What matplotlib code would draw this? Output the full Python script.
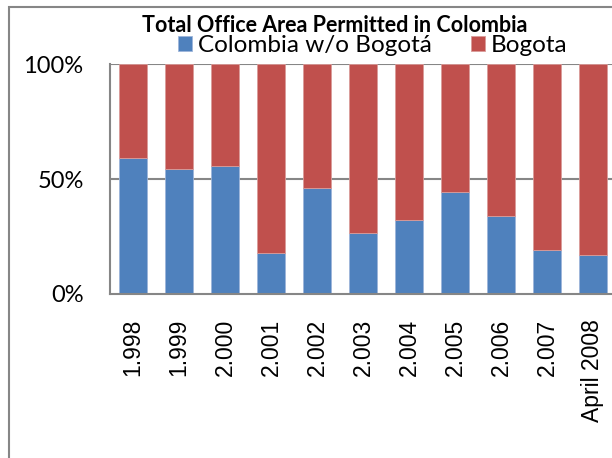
import matplotlib
matplotlib.use("Agg")
import matplotlib.pyplot as plt
from matplotlib.patches import Rectangle

# data (share of total, %)
categories = ["1.998", "1.999", "2.000", "2.001", "2.002", "2.003",
              "2.004", "2.005", "2.006", "2.007", "April 2008"]
colombia_wo_bogota = [59.3, 54.4, 55.8, 17.9, 46.2, 26.6, 32.3, 44.3, 34.0, 19.3, 17.0]
bogota = [100 - v for v in colombia_wo_bogota]

blue = "#4F81BD"
red = "#C0504D"
gray = "#868686"

W, H = 612, 458
fig = plt.figure(figsize=(W / 100, H / 100), dpi=100)

# outer chart border (cropped on right and bottom)
fig.patches.append(Rectangle((9 / W, -0.1), 2.0, 1.1 - 7 / H, transform=fig.transFigure,
                             fill=False, edgecolor=gray, linewidth=1.5))

# plot area, runs a little past the right edge like the original crop
ax = fig.add_axes([110 / W, 1 - 294 / H, 506 / W, 230 / H])
x = list(range(len(categories)))
ax.bar(x, colombia_wo_bogota, width=0.63, color=blue, edgecolor="#9DB5DA",
       linewidth=0.6, label="Colombia w/o Bogotá", zorder=3)
ax.bar(x, bogota, width=0.63, bottom=colombia_wo_bogota, color=red, edgecolor="#DA9C9A",
       linewidth=0.6, label="Bogota", zorder=3)

ax.set_xlim(-0.5, len(categories) - 0.5)
ax.set_ylim(0, 100)
ax.set_yticks([0, 50, 100])
ax.set_yticklabels(["0%", "50%", "100%"], fontfamily="Lato", fontsize=17)
ax.set_xticks(x)
ax.set_xticklabels(categories, rotation=90, fontfamily="Liberation Sans", fontsize=16.5)
ax.tick_params(axis="y", length=0, pad=19)
ax.tick_params(axis="x", length=0, pad=18)

for yv in [50, 100]:
    ax.axhline(yv, color=gray, linewidth=1.5, zorder=1)
for side in ["top", "right"]:
    ax.spines[side].set_visible(False)
for side in ["left", "bottom"]:
    ax.spines[side].set_color(gray)
    ax.spines[side].set_linewidth(1.5)
    ax.spines[side].set_zorder(4)

fig.text(335 / W, 1 - 25 / H, "Total Office Area Permitted in Colombia",
         ha="center", va="center", fontfamily="Lato", fontweight="bold", fontsize=15.5)

fig.legend(loc="center", bbox_to_anchor=(373 / W, 1 - 46 / H), ncol=2, frameon=False,
           prop={"family": "Lato", "size": 17.5}, handlelength=0.58, handleheight=0.58,
           handletextpad=0.25, columnspacing=1.6, borderpad=0, borderaxespad=0)

fig.savefig("out.png", dpi=100)
